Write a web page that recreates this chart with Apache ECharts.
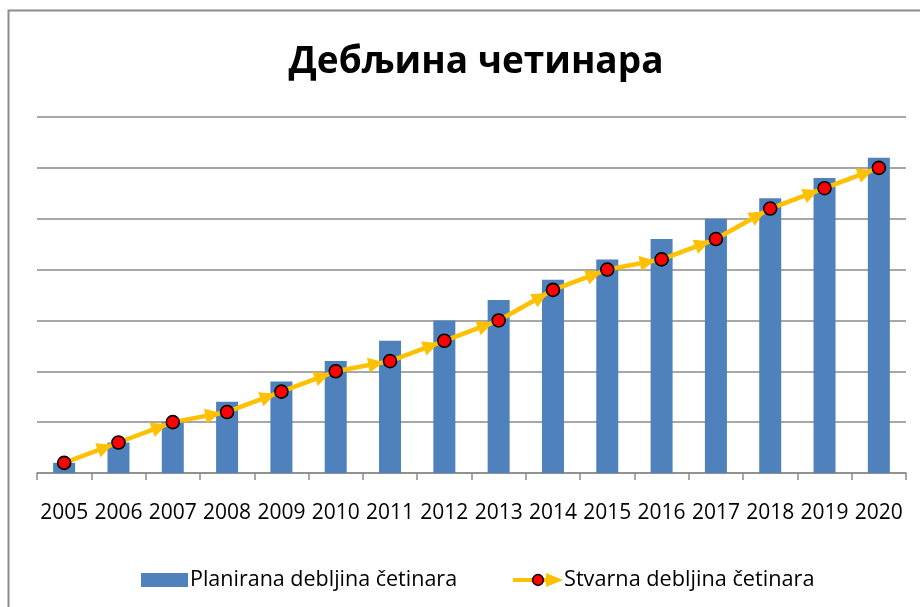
<!DOCTYPE html>
<html>
<head>
<meta charset="utf-8">
<script src="https://cdn.jsdelivr.net/npm/echarts@6/dist/echarts.min.js"></script>
<style>
  html, body { margin: 0; padding: 0; background: #ffffff; }
  #chart { width: 920px; height: 607px; }
</style>
</head>
<body>
<div id="chart"></div>
<script>
// Years on the category axis
const years = ['2005','2006','2007','2008','2009','2010','2011','2012','2013','2014','2015','2016','2017','2018','2019','2020'];
// Planned thickness (bars)
const planned = [0.2, 0.6, 1.0, 1.4, 1.8, 2.2, 2.6, 3.0, 3.4, 3.8, 4.2, 4.6, 5.0, 5.4, 5.8, 6.2];
// Actual thickness (line with arrows)
const actual = [0.2, 0.6, 1.0, 1.2, 1.6, 2.0, 2.2, 2.6, 3.0, 3.6, 4.0, 4.2, 4.6, 5.2, 5.6, 6.0];

const titleText = 'Дебљина четинара';
const barName = 'Planirana debljina četinara';
const lineName = 'Stvarna debljina četinara';

const BAR_COLOR = '#4F81BD';
const LINE_COLOR = '#FFC000';
const GRID_COLOR = '#8a8a8a';
const FONT = '"Open Sans", "Noto Sans", sans-serif';

// One segment per pair of consecutive points: [toIndex, toValue, fromIndex, fromValue]
const arrowData = [];
for (let i = 1; i < actual.length; i++) {
  arrowData.push([i, actual[i], i - 1, actual[i - 1]]);
}

// Legend icon for the line: yellow stroke, red dot, arrowhead
const lineIconSvg =
  '<svg xmlns="http://www.w3.org/2000/svg" width="52" height="16" viewBox="0 0 52 16">' +
  '<line x1="2" y1="8" x2="40" y2="8" stroke="' + LINE_COLOR + '" stroke-width="4"/>' +
  '<polygon points="35,1 52,8 35,15" fill="' + LINE_COLOR + '"/>' +
  '<circle cx="27" cy="8" r="5.4" fill="#FF0000" stroke="#000" stroke-width="1.5"/>' +
  '</svg>';
const lineIcon = 'image://data:image/svg+xml;utf8,' + encodeURIComponent(lineIconSvg);

const chart = echarts.init(document.getElementById('chart'), null, { renderer: 'canvas' });

chart.setOption({
  backgroundColor: '#ffffff',
  animation: false,
  graphic: [{
    type: 'rect',
    shape: { x: 8.5, y: 10.5, width: 1000, height: 800 },
    style: { fill: 'none', stroke: '#8c8c8c', lineWidth: 2 },
    silent: true,
    z: 100
  }],
  title: {
    text: titleText,
    left: 471,
    textAlign: 'center',
    top: 39,
    textStyle: { fontFamily: FONT, fontWeight: 'bold', fontSize: 37, color: '#000' }
  },
  legend: [{
    data: [{ name: barName, icon: 'rect' }],
    left: 136,
    top: 564,
    itemWidth: 47,
    itemHeight: 14,
    itemGap: 4,
    selectedMode: false,
    textStyle: { fontFamily: FONT, fontSize: 21.5, color: '#000', padding: [0, 0, 0, -3] }
  }, {
    data: [{ name: lineName, icon: lineIcon }],
    left: 506,
    top: 564,
    itemWidth: 52,
    itemHeight: 16,
    selectedMode: false,
    textStyle: { fontFamily: FONT, fontSize: 21.7, color: '#000', padding: [0, 0, 0, -4] }
  }],
  grid: { left: 37, right: 14, top: 117, bottom: 134 },
  xAxis: {
    type: 'category',
    data: years,
    boundaryGap: true,
    axisLine: { show: true, lineStyle: { color: GRID_COLOR, width: 1.5 } },
    axisTick: { show: true, length: 7, lineStyle: { color: GRID_COLOR, width: 1.5 } },
    axisLabel: { fontFamily: FONT, fontSize: 21, color: '#000', margin: 30, interval: 0 }
  },
  yAxis: {
    type: 'value',
    min: 0,
    max: 7,
    interval: 1,
    axisLine: { show: false },
    axisTick: { show: false },
    axisLabel: { show: false },
    splitLine: { lineStyle: { color: GRID_COLOR, width: 1.5 } }
  },
  series: [{
    name: barName,
    type: 'bar',
    data: planned,
    barWidth: 22,
    itemStyle: { color: BAR_COLOR },
    z: 1
  }, {
    name: lineName,
    type: 'line',
    data: actual,
    symbol: 'circle',
    symbolSize: 13,
    lineStyle: { color: LINE_COLOR, width: 4.5 },
    itemStyle: { color: '#FF0000', borderColor: '#000', borderWidth: 1.6 },
    z: 4
  }, {
    // Arrowheads at the end of every segment, stopping at the marker edge
    name: lineName + ' arrows',
    type: 'custom',
    data: arrowData,
    z: 3,
    silent: true,
    renderItem: function (params, api) {
      const p1 = api.coord([api.value(0), api.value(1)]);
      const p0 = api.coord([api.value(2), api.value(3)]);
      const dx = p1[0] - p0[0], dy = p1[1] - p0[1];
      const len = Math.sqrt(dx * dx + dy * dy);
      const ux = dx / len, uy = dy / len;
      const px = -uy, py = ux;
      const tipX = p1[0] - ux * 6, tipY = p1[1] - uy * 6;
      const baseX = tipX - ux * 16, baseY = tipY - uy * 16;
      const hw = 7.5;
      return {
        type: 'polygon',
        shape: {
          points: [
            [tipX, tipY],
            [baseX + px * hw, baseY + py * hw],
            [baseX - px * hw, baseY - py * hw]
          ]
        },
        style: { fill: LINE_COLOR }
      };
    }
  }]
});
</script>
</body>
</html>
